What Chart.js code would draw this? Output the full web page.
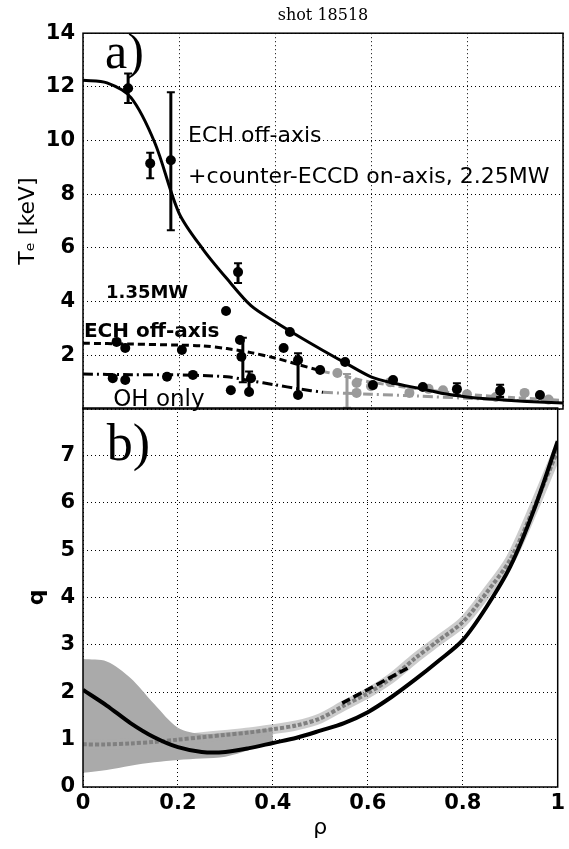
<!DOCTYPE html>
<html>
<head>
<meta charset="utf-8">
<script src="https://cdn.jsdelivr.net/npm/chart.js@4.4.1/dist/chart.umd.min.js"></script>
<style>
  html, body { margin: 0; padding: 0; background: #fff; }
  #wrap { position: relative; width: 569px; height: 849px; }
  #wrap canvas { position: absolute; left: 0; top: 0; }
</style>
</head>
<body>
<div id="wrap">
  <canvas id="teChart" width="569" height="849"></canvas>
  <canvas id="qChart" width="569" height="849"></canvas>
</div>
<script>
  // ---- panel a) Te profiles ----
  // fitted profile, ECH off-axis + counter-ECCD on-axis 2.25MW
  const rhoFit = [0, 0.05, 0.1, 0.15, 0.2, 0.25, 0.3, 0.35, 0.4, 0.45, 0.5, 0.55, 0.6, 0.65, 0.7, 0.75, 0.8, 0.85, 0.9, 0.95, 1];
  const te225Fit = [12.25, 12.15, 11.6, 9.9, 7.3, 5.95, 4.85, 3.85, 3.25, 2.7, 2.18, 1.68, 1.2, 0.95, 0.77, 0.58, 0.45, 0.37, 0.31, 0.26, 0.22];

  // ECH off-axis 1.35MW fit (black part, then grey part)
  const rho135Fit = [0, 0.1, 0.2, 0.25, 0.3, 0.35, 0.4, 0.45, 0.5];
  const te135Fit = [2.45, 2.42, 2.38, 2.35, 2.25, 2.1, 1.9, 1.65, 1.4];
  const rho135Out = [0.5, 0.55, 0.6, 0.7, 0.8, 0.9, 1];
  const te135Out = [1.4, 1.2, 1.0, 0.75, 0.55, 0.42, 0.32];

  // OH only fit
  const rhoOHFit = [0, 0.1, 0.2, 0.3, 0.35, 0.4, 0.45, 0.5];
  const teOHFit = [1.3, 1.28, 1.27, 1.2, 1.05, 0.9, 0.75, 0.62];
  const rhoOHOut = [0.5, 0.6, 0.7, 0.8, 0.9, 1];
  const teOHOut = [0.62, 0.55, 0.48, 0.4, 0.32, 0.25];

  // measured points
  const rho225 = [0.094, 0.14, 0.183, 0.323, 0.298, 0.431, 0.546, 0.604, 0.646, 0.708, 0.779, 0.869, 0.952];
  const te225 = [11.95, 9.15, 9.27, 5.1, 3.65, 2.87, 1.75, 0.89, 1.08, 0.82, 0.74, 0.68, 0.52];
  const rho135 = [0.07, 0.088, 0.206, 0.327, 0.33, 0.418, 0.448, 0.494];
  const te135 = [2.5, 2.27, 2.2, 2.57, 1.95, 2.27, 1.82, 1.45];
  const rhoOH = [0.062, 0.088, 0.175, 0.229, 0.308, 0.346, 0.35, 0.448];
  const teOH = [1.15, 1.08, 1.2, 1.27, 0.7, 0.63, 1.15, 0.52];
  const rhoGrey = [0.53, 0.57, 0.57, 0.6, 0.64, 0.68, 0.72, 0.75, 0.8, 0.86, 0.92, 0.97];
  const teGrey = [1.34, 0.97, 0.6, 0.85, 1.0, 0.6, 0.75, 0.7, 0.55, 0.45, 0.6, 0.35];

  // error bars
  const errRho = [0.094, 0.14, 0.183, 0.323, 0.333, 0.448, 0.346, 0.779, 0.869];
  const errLo = [11.4, 8.6, 6.66, 4.69, 1.0, 0.45, 0.6, 0.5, 0.45];
  const errHi = [12.5, 9.55, 11.8, 5.43, 2.65, 2.08, 1.4, 0.96, 0.9];
  const errGreyRho = [0.55];
  const errGreyLo = [0.05];
  const errGreyHi = [1.3];

  // ---- panel b) q profiles ----
  const qRho = [0, 0.05, 0.1, 0.15, 0.2, 0.25, 0.3, 0.35, 0.4, 0.45, 0.5, 0.55, 0.6, 0.65, 0.7, 0.75, 0.8, 0.85, 0.9, 0.95, 1];
  const qSolid = [2.05, 1.72, 1.35, 1.05, 0.84, 0.74, 0.74, 0.82, 0.93, 1.04, 1.19, 1.35, 1.58, 1.9, 2.27, 2.67, 3.1, 3.8, 4.65, 5.85, 7.3];
  const qGrey = [0.9, 0.9, 0.92, 0.95, 1.0, 1.05, 1.1, 1.15, 1.22, 1.3, 1.45, 1.72, 1.98, 2.3, 2.72, 3.1, 3.48, 4.1, 4.8, 5.9, 7.1];
  const bandRho = [0, 0.05, 0.1, 0.15, 0.2, 0.25, 0.3, 0.35, 0.4];
  const bandHi = [2.7, 2.65, 2.3, 1.75, 1.25, 1.12, 1.15, 1.2, 1.24];
  const bandLo = [0.3, 0.36, 0.45, 0.52, 0.57, 0.6, 0.64, 0.78, 0.96];
  const shortRho = [0.546, 0.688];
  const shortQ = [1.77, 2.53];

  const teTicks = [0, 2, 4, 6, 8, 10, 12, 14];
  const qTicks = [0, 1, 2, 3, 4, 5, 6, 7, 8];
  const rhoTicks = [0, 0.2, 0.4, 0.6, 0.8, 1];

  const SANS = 'DejaVu Sans';
  const pts = (xs, ys) => xs.map((x, i) => ({ x, y: ys[i] }));
  const bars = (xs, lo, hi) => xs.flatMap((x, i) => [{ x, y: lo[i] }, { x, y: hi[i] }, { x, y: null }]);

  // box round each panel
  const frame = {
    id: 'frame',
    afterDraw(chart) {
      const { ctx, chartArea: a } = chart;
      ctx.save();
      ctx.strokeStyle = '#000';
      ctx.lineWidth = 1.5;
      ctx.strokeRect(a.left, a.top, a.right - a.left, a.bottom - a.top);
      ctx.restore();
    }
  };

  // text labels placed in data coordinates
  const notes = {
    id: 'notes',
    afterDatasetsDraw(chart, args, opts) {
      const { ctx, scales } = chart;
      (opts.items || []).forEach(n => {
        ctx.save();
        ctx.font = n.font;
        ctx.fillStyle = '#000';
        ctx.textBaseline = 'alphabetic';
        ctx.fillText(n.text, scales.x.getPixelForValue(n.x), scales.y.getPixelForValue(n.y));
        ctx.restore();
      });
    }
  };

  const line = (data, color, width, dash) => ({
    data, showLine: true, borderColor: color, borderWidth: width, borderDash: dash || [],
    pointRadius: 0, tension: 0.3, fill: false
  });
  const dots = (data, color) => ({
    data, showLine: false, pointRadius: 5, pointBackgroundColor: color, pointBorderColor: color, pointBorderWidth: 0
  });
  const errs = (data, color) => ({
    data, showLine: true, borderColor: color, borderWidth: 3, pointStyle: 'line',
    pointRadius: 4, pointBorderColor: color, pointBorderWidth: 2, spanGaps: false
  });

  const gridOpts = { color: '#000', lineWidth: 1, drawTicks: false };
  const borderOpts = { display: false, dash: [1, 3] };
  const tickFont = { family: SANS, size: 21, weight: 'bold' };
  const rhoAxis = s => { s.ticks = rhoTicks.map(v => ({ value: v })); };

  new Chart(document.getElementById('teChart'), {
    type: 'scatter',
    data: {
      datasets: [
        line(pts(rhoFit, te225Fit), '#000', 3),
        errs(bars(errRho, errLo, errHi), '#000'),
        dots(pts(rho225, te225), '#000'),
        dots(pts(rho135, te135), '#000'),
        dots(pts(rhoOH, teOH), '#000'),
        line(pts(rho135Fit, te135Fit), '#000', 3, [7, 4]),
        line(pts(rhoOHFit, teOHFit), '#000', 3, [10, 4, 2, 4]),
        errs(bars(errGreyRho, errGreyLo, errGreyHi), '#9a9a9a'),
        dots(pts(rhoGrey, teGrey), '#9a9a9a'),
        line(pts(rho135Out, te135Out), '#9a9a9a', 3, [7, 4]),
        line(pts(rhoOHOut, teOHOut), '#9a9a9a', 3, [10, 4, 2, 4])
      ]
    },
    options: {
      responsive: false,
      animation: false,
      layout: { padding: { top: 0, left: 0, right: 6, bottom: 440 } },
      scales: {
        x: {
          type: 'linear', min: 0, max: 1,
          afterBuildTicks: rhoAxis,
          ticks: { display: false },
          grid: gridOpts, border: borderOpts,
          afterFit: s => { s.height = 0; }
        },
        y: {
          min: 0, max: 14,
          afterBuildTicks: s => { s.ticks = teTicks.map(v => ({ value: v })); },
          ticks: { font: tickFont, color: '#000', padding: 8, callback: v => (v === 0 ? '' : v) },
          grid: gridOpts, border: borderOpts,
          title: { display: true, text: 'Tₑ [keV]', color: '#000', font: { family: SANS, size: 22 }, padding: { top: 15, bottom: 0 } },
          afterFit: s => { s.width = 83; }
        }
      },
      plugins: {
        legend: { display: false },
        tooltip: { enabled: false },
        title: {
          display: true, text: 'shot 18518', fullSize: false, color: '#000',
          font: { family: 'DejaVu Serif', size: 16, weight: 'normal' },
          padding: { top: 6, bottom: 8 }
        },
        notes: {
          items: [
            { text: 'a)', x: 0.046, y: 12.7, font: '50px "Liberation Serif"' },
            { text: 'ECH off-axis', x: 0.219, y: 9.94, font: `22px "${SANS}"` },
            { text: '+counter-ECCD on-axis, 2.25MW', x: 0.219, y: 8.41, font: `22px "${SANS}"` },
            { text: '1.35MW', x: 0.048, y: 4.13, font: `bold 18px "${SANS}"` },
            { text: 'ECH off-axis', x: 0.002, y: 2.68, font: `bold 20px "${SANS}"` },
            { text: 'OH only', x: 0.063, y: 0.11, font: `23px "${SANS}"` }
          ]
        }
      }
    },
    plugins: [frame, notes]
  });

  new Chart(document.getElementById('qChart'), {
    type: 'scatter',
    data: {
      datasets: [
        line(pts(shortRho, shortQ), '#000', 3.5, [9, 4]),
        line(pts(qRho, qSolid), '#000', 4),
        line(pts(qRho, qGrey), '#808080', 4, [4, 2]),
        line(pts(qRho, qGrey), 'rgba(170,170,170,0.6)', 10),
        Object.assign(line(pts(bandRho, bandHi), '#aaa', 0), { fill: '+1', backgroundColor: '#aaa' }),
        line(pts(bandRho, bandLo), '#aaa', 0)
      ]
    },
    options: {
      responsive: false,
      animation: false,
      layout: { padding: { top: 408, left: 0, right: 6, bottom: 0 } },
      scales: {
        x: {
          type: 'linear', min: 0, max: 1,
          afterBuildTicks: rhoAxis,
          ticks: { font: tickFont, color: '#000', padding: 4, maxRotation: 0, callback: v => String(Number(v.toFixed(1))) },
          grid: gridOpts, border: borderOpts,
          title: { display: true, text: 'ρ', color: '#000', font: { family: SANS, size: 22 }, padding: { top: 0, bottom: 8 } },
          afterFit: s => { s.height = 62; }
        },
        y: {
          min: 0, max: 8,
          afterBuildTicks: s => { s.ticks = qTicks.map(v => ({ value: v })); },
          ticks: { font: tickFont, color: '#000', padding: 8, callback: v => (v === 8 ? '' : v) },
          grid: gridOpts, border: borderOpts,
          title: { display: true, text: 'q', color: '#000', font: { family: SANS, size: 22, weight: 'bold' }, padding: { top: 24, bottom: 0 } },
          afterFit: s => { s.width = 83; }
        }
      },
      plugins: {
        legend: { display: false },
        tooltip: { enabled: false },
        notes: {
          items: [
            { text: 'b)', x: 0.05, y: 6.9, font: '52px "Liberation Serif"' }
          ]
        }
      }
    },
    plugins: [frame, notes]
  });
</script>
</body>
</html>
